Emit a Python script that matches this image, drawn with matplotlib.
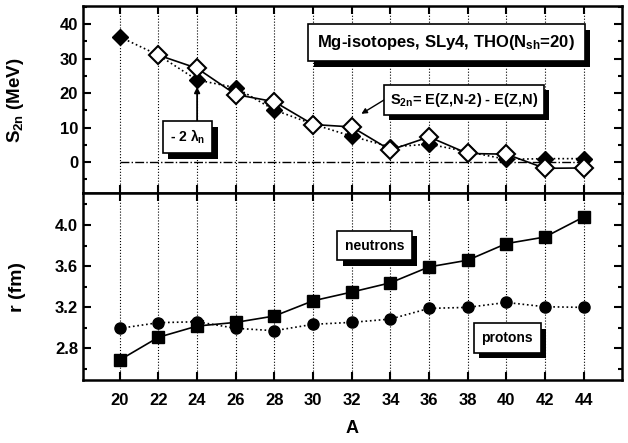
#!/usr/bin/env python3
"""Two-neutron separation energies and radii of Mg isotopes."""

import numpy as np
import matplotlib
matplotlib.use("Agg")
import matplotlib.pyplot as plt
import matplotlib.patheffects as pe
from matplotlib.ticker import MultipleLocator

plt.rcParams['font.family'] = ['Liberation Sans', 'DejaVu Sans']
plt.rcParams['font.weight'] = 'bold'
plt.rcParams['mathtext.fontset'] = 'custom'
plt.rcParams['mathtext.rm'] = 'Liberation Sans:bold'
plt.rcParams['mathtext.it'] = 'Liberation Sans:bold'
plt.rcParams['mathtext.bf'] = 'Liberation Sans:bold'

# Data
mass_number = [20, 22, 24, 26, 28, 30, 32, 34, 36, 38, 40, 42, 44]
s2n_lambda = [36.3, 31.0, 23.8, 21.6, 15.1, 11.0, 7.5, 4.4, 5.2, 3.0, 0.8, 1.0, 1.0]
s2n_diff = [None, 31.0, 27.2, 19.6, 17.5, 10.9, 10.2, 3.5, 7.3, 2.5, 2.3, -1.8, -1.7]
r_neutrons = [2.686, 2.907, 3.016, 3.052, 3.114, 3.262, 3.347, 3.437, 3.592,
              3.657, 3.819, 3.883, 4.078]
r_protons = [2.994, 3.049, 3.058, 2.994, 2.971, 3.033, 3.052, 3.084, 3.188,
             3.198, 3.246, 3.204, 3.198]


def shadow_box(ax, x, y, text, size, pad=0.5):
    """Place a boxed label with a black drop shadow."""
    t = ax.text(x, y, text, ha='center', va='center', fontsize=size,
                fontweight='bold', zorder=6,
                bbox=dict(boxstyle='square,pad=%s' % pad, fc='white',
                          ec='black', lw=1.2))
    t.get_bbox_patch().set_path_effects([
        pe.SimplePatchShadow(offset=(4, -4), shadow_rgbFace='black', alpha=1),
        pe.Normal()])
    return t


fig, (ax1, ax2) = plt.subplots(2, 1, sharex=True, figsize=(6.28, 4.43), dpi=100)
fig.subplots_adjust(left=0.132, right=0.990, top=0.986, bottom=0.142, hspace=0)

A = np.array(mass_number)
diff = np.array([np.nan if v is None else v for v in s2n_diff], dtype=float)

# Upper panel: S2n
ax1.plot(A, s2n_lambda, 'k:', lw=1.2, marker='D', ms=8.5, mfc='black', mec='black',
         zorder=4)
ax1.plot(A, diff, 'k-', lw=1.2, marker='D', ms=9.5, mfc='white', mec='black',
         mew=1.5, zorder=5)
ax1.hlines(0, A[0], A[-1], colors='black', linestyles='-.', lw=1.0)
ax1.set_ylim(-9, 45.2)
ax1.yaxis.set_major_locator(MultipleLocator(10))
ax1.yaxis.set_minor_locator(MultipleLocator(5))
ax1.set_ylabel(r'S$_{2n}$ (MeV)', fontsize=13.5, fontweight='bold')
ax1.yaxis.set_label_coords(-0.105, 0.5)

shadow_box(ax1, 36.9, 34.6, r'Mg-isotopes, SLy4, THO(N$_{sh}$=20)', 12, pad=0.55)
shadow_box(ax1, 23.5, 7.2, r'- 2 λ$_{n}$', 10, pad=0.5)
ax1.annotate('', xy=(24, 21.8), xytext=(24, 11.6),
             arrowprops=dict(arrowstyle='-|>', color='black', lw=1.3,
                             mutation_scale=8, shrinkA=0, shrinkB=0), zorder=5)
shadow_box(ax1, 37.8, 18.1, r'S$_{2n}$= E(Z,N-2) - E(Z,N)', 10.5, pad=0.4)
ax1.annotate('', xy=(32.5, 14.0), xytext=(33.9, 18.8),
             arrowprops=dict(arrowstyle='-|>', color='black', lw=1.0,
                             mutation_scale=8, shrinkA=0, shrinkB=0), zorder=5)

# Lower panel: radii
ax2.plot(A, r_neutrons, 'k-', lw=1.2, marker='s', ms=8, zorder=4)
ax2.plot(A, r_protons, 'k:', lw=1.2, marker='o', ms=8, zorder=4)
ax2.set_ylim(2.49, 4.31)
ax2.yaxis.set_major_locator(MultipleLocator(0.4))
ax2.yaxis.set_minor_locator(MultipleLocator(0.2))
ax2.set_ylabel('r (fm)', fontsize=14, fontweight='bold')
ax2.yaxis.set_label_coords(-0.105, 0.5)
shadow_box(ax2, 33.17, 3.80, 'neutrons', 10, pad=0.55)
shadow_box(ax2, 40.05, 2.90, 'protons', 10, pad=0.55)

ax2.set_xlim(18.09, 45.97)
ax2.set_xticks(A)
ax2.set_xlabel('A', fontsize=13, fontweight='bold', labelpad=9)

for ax in (ax1, ax2):
    for x in A:
        ax.axvline(x, color='black', ls=':', lw=0.8, zorder=1)
    ax.tick_params(which='both', direction='in', top=True, right=True,
                   labelsize=12, width=1.5)
    ax.tick_params(which='major', length=6)
    ax.tick_params(which='minor', length=3)
    ax.tick_params(axis='x', pad=9)
    for sp in ax.spines.values():
        sp.set_linewidth(1.8)
ax1.set_yticks([0, 10, 20, 30, 40])
ax2.set_yticks([2.8, 3.2, 3.6, 4.0])
ax2.set_yticklabels(['2.8', '3.2', '3.6', '4.0'], fontweight='bold')
ax1.set_yticklabels(['0', '10', '20', '30', '40'], fontweight='bold')
ax2.set_xticklabels([str(a) for a in A], fontweight='bold')

fig.savefig('out.png', dpi=100)
